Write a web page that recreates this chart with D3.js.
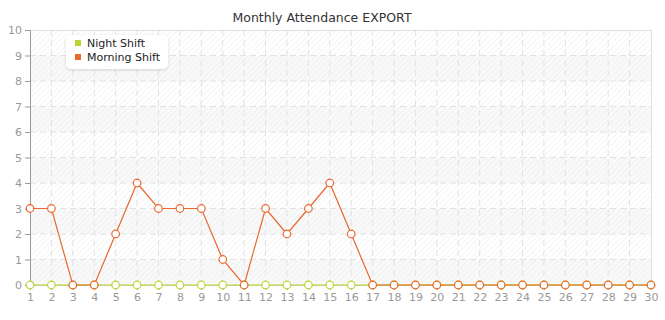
<!DOCTYPE html>
<html>
<head>
<meta charset="utf-8">
<script src="https://cdn.jsdelivr.net/npm/d3@7"></script>
<style>
  body { margin: 0; background: #fff; }
  svg { font-family: "DejaVu Sans", Verdana, sans-serif; }
</style>
</head>
<body>
<div id="chart"></div>
<script>
const days = d3.range(1, 31);
const nightShift = [0,0,0,0,0,0,0,0,0,0,0,0,0,0,0,0,0,0,0,0,0,0,0,0,0,0,0,0,0,0];
const morningShift = [3,3,0,0,2,4,3,3,3,1,0,3,2,3,4,2,0,0,0,0,0,0,0,0,0,0,0,0,0,0];
const yTicks = d3.range(0, 11);
const seriesNames = ["Night Shift", "Morning Shift"];
const seriesColors = ["#b9d532", "#e8682e"];

const width = 665, height = 320;
const margin = { top: 30, right: 14, bottom: 35, left: 30 };
const w = width - margin.left - margin.right;
const h = height - margin.top - margin.bottom;

const svg = d3.select("#chart").append("svg")
  .attr("width", width).attr("height", height);

const defs = svg.append("defs");
const pat = defs.append("pattern")
  .attr("id", "hatch")
  .attr("patternUnits", "userSpaceOnUse")
  .attr("width", 4).attr("height", 4)
  .attr("patternTransform", "rotate(45)");
pat.append("line")
  .attr("x1", 0).attr("y1", 0).attr("x2", 0).attr("y2", 4)
  .attr("stroke", "#e6e6e6").attr("stroke-width", 1);

const shadow = defs.append("filter").attr("id", "shadow")
  .attr("x", "-20%").attr("y", "-30%").attr("width", "140%").attr("height", "170%");
shadow.append("feDropShadow")
  .attr("dx", 0).attr("dy", 1).attr("stdDeviation", 1.5)
  .attr("flood-color", "#000").attr("flood-opacity", 0.15);

svg.append("text")
  .attr("x", 322).attr("y", 22)
  .attr("text-anchor", "middle")
  .attr("font-size", 12.5)
  .attr("fill", "#333")
  .text("Monthly Attendance EXPORT");

const g = svg.append("g").attr("transform", `translate(${margin.left},${margin.top})`);

const x = d3.scaleLinear().domain([1, 30]).range([0, w]);
const y = d3.scaleLinear().domain([0, 10]).range([h, 0]);

// background
g.append("rect").attr("width", w).attr("height", h).attr("fill", "#fff");
g.selectAll("rect.band")
  .data(yTicks.filter(d => d < 10 && d % 2 === 0))
  .enter().append("rect")
  .attr("class", "band")
  .attr("x", 0).attr("width", w)
  .attr("y", d => y(d + 1))
  .attr("height", d => y(d) - y(d + 1))
  .attr("fill", "#f9f9f9");
g.append("rect").attr("width", w).attr("height", h).attr("fill", "url(#hatch)").attr("opacity", 0.8);

// grid
g.selectAll("line.hgrid")
  .data(yTicks.filter(d => d > 0 && d < 10))
  .enter().append("line")
  .attr("x1", 0).attr("x2", w)
  .attr("y1", d => y(d)).attr("y2", d => y(d))
  .attr("stroke", "#e2e2e2").attr("stroke-dasharray", "6,4");
g.selectAll("line.vgrid")
  .data(days.filter(d => d > 1 && d < 30))
  .enter().append("line")
  .attr("y1", 0).attr("y2", h)
  .attr("x1", d => x(d)).attr("x2", d => x(d))
  .attr("stroke", "#e2e2e2").attr("stroke-dasharray", "6,4");

// borders
g.append("line").attr("x1", 0).attr("x2", w).attr("y1", 0.5).attr("y2", 0.5).attr("stroke", "#e0e0e0");
g.append("line").attr("x1", w + 0.5).attr("x2", w + 0.5).attr("y1", 0).attr("y2", h).attr("stroke", "#e0e0e0");

// axes
const yAxis = g.append("g").call(d3.axisLeft(y).tickValues(yTicks).tickSize(5).tickPadding(3));
const xAxis = g.append("g").attr("transform", `translate(0,${h})`)
  .call(d3.axisBottom(x).tickValues(days).tickFormat(d3.format("d")).tickSize(5).tickPadding(3));
[yAxis, xAxis].forEach(a => {
  a.select(".domain").attr("stroke", "#999");
  a.selectAll(".tick line").attr("stroke", "#999");
  a.selectAll("text").attr("fill", "#999").attr("font-size", 11)
    .attr("font-family", "DejaVu Sans, Verdana, sans-serif");
});
xAxis.select(".domain").attr("stroke", "#ccc");

// series
const line = d3.line().x((d, i) => x(days[i])).y(d => y(d));
[nightShift, morningShift].forEach((vals, k) => {
  g.append("path")
    .attr("d", line(vals))
    .attr("fill", "none")
    .attr("stroke", seriesColors[k])
    .attr("stroke-width", 1.2);
  g.selectAll(null).data(vals).enter().append("circle")
    .attr("cx", (d, i) => x(days[i]))
    .attr("cy", d => y(d))
    .attr("r", 3.8)
    .attr("fill", "#fff")
    .attr("stroke", seriesColors[k])
    .attr("stroke-width", 1.2);
});

// legend
const lg = svg.append("g").attr("transform", "translate(66,35)");
lg.append("rect")
  .attr("width", 102).attr("height", 34).attr("rx", 5)
  .attr("fill", "#fff").attr("filter", "url(#shadow)");
seriesNames.forEach((name, i) => {
  lg.append("rect")
    .attr("x", 9).attr("y", 5 + i * 14)
    .attr("width", 6).attr("height", 6)
    .attr("fill", seriesColors[i]);
  lg.append("text")
    .attr("x", 21).attr("y", 12 + i * 14)
    .attr("font-size", 11).attr("fill", "#222")
    .text(name);
});
</script>
</body>
</html>
